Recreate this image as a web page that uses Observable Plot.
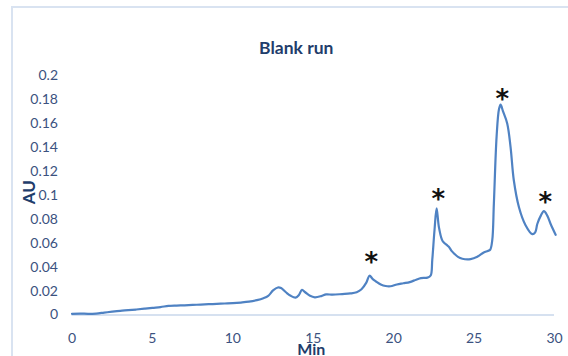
<!DOCTYPE html>
<html>
<head>
<meta charset="utf-8">
<script src="https://cdn.jsdelivr.net/npm/d3@7"></script>
<script src="https://cdn.jsdelivr.net/npm/@observablehq/plot@0.6"></script>
<style>
  html, body { margin: 0; padding: 0; background: #fff; }
  #wrap { position: relative; width: 568px; height: 356px; overflow: hidden; }
  #border { position: absolute; left: 11px; top: 6px; width: 600px; height: 400px;
            border-left: 2px solid #d9e3f1; border-top: 2px solid #d9e3f1; box-sizing: border-box; }
  #chart { position: absolute; left: 0; top: 0; }
</style>
</head>
<body>
<div id="wrap"><div id="border"></div><div id="chart"></div></div>
<script>
// Chromatogram trace (minutes, absorbance units)
const minutes = [0.0, 0.5, 1.0, 1.5, 2.0, 2.5, 3.0, 3.5, 4.0, 4.5, 5.0, 5.5, 6.0, 6.5, 7.0, 7.5, 8.0, 8.5, 9.0, 9.5,
  10.0, 10.5, 11.0, 11.5, 11.9, 12.2, 12.5, 12.8, 13.0, 13.3, 13.6, 13.9, 14.1, 14.3, 14.5, 14.8, 15.1, 15.5, 15.8,
  16.2, 16.8, 17.3, 17.7, 18.0, 18.3, 18.5, 18.7, 18.9, 19.2, 19.5, 19.8, 20.2, 20.6, 21.0, 21.4, 21.7, 22.1, 22.3,
  22.4, 22.54, 22.67, 22.81, 23.0, 23.12, 23.3, 23.43, 23.6, 23.75, 24.0, 24.27, 24.78, 25.2, 25.6, 25.85, 26.0,
  26.13, 26.23, 26.4, 26.55, 26.65, 26.8, 27.06, 27.27, 27.47, 27.79, 28.2, 28.62, 28.8, 28.93, 29.15, 29.34, 29.55,
  29.76, 30.07];
const au = [0.0010, 0.0012, 0.0010, 0.0012, 0.0020, 0.0028, 0.0035, 0.0040, 0.0046, 0.0053, 0.0060, 0.0066, 0.0076, 0.0079,
  0.0081, 0.0084, 0.0087, 0.0090, 0.0093, 0.0096, 0.0099, 0.0104, 0.0111, 0.0124, 0.0140, 0.0160, 0.0205, 0.0230,
  0.0225, 0.0190, 0.0160, 0.0145, 0.0165, 0.0210, 0.0190, 0.0160, 0.0148, 0.0158, 0.0172, 0.0170, 0.0175, 0.0180,
  0.0190, 0.0215, 0.0270, 0.0328, 0.0300, 0.0280, 0.0255, 0.0242, 0.0240, 0.0255, 0.0265, 0.0275, 0.0295, 0.0308,
  0.0312, 0.0330, 0.0460, 0.0710, 0.0890, 0.0736, 0.0630, 0.0605, 0.0585, 0.0570, 0.0535, 0.0514, 0.0485, 0.0470,
  0.0467, 0.0486, 0.0522, 0.0535, 0.0545, 0.0625, 0.0930, 0.1490, 0.1720, 0.1756, 0.1700, 0.1600, 0.1400, 0.1125,
  0.0900, 0.0750, 0.0675, 0.0690, 0.0760, 0.0830, 0.0867, 0.0830, 0.0760, 0.0670];

// Peak markers (asterisks)
const starMinutes = [18.61, 22.77, 26.75, 29.43];
const starAU = [0.0483, 0.1012, 0.1852, 0.0984];

const xTicks = [0, 5, 10, 15, 20, 25, 30];
const yTicks = [0, 0.02, 0.04, 0.06, 0.08, 0.1, 0.12, 0.14, 0.16, 0.18, 0.2];
const yTickLabels = ["0", "0.02", "0.04", "0.06", "0.08", "0.1", "0.12", "0.14", "0.16", "0.18", "0.2"];

const trace = minutes.map((m, i) => ({m, v: au[i]}));
const stars = starMinutes.map((m, i) => ({m, v: starAU[i]}));

const tickColor = "#3b5280";
const labelColor = "#1f3d6b";

const chart = Plot.plot({
  width: 568,
  height: 356,
  marginLeft: 71.5,
  marginRight: 14,
  marginTop: 75,
  marginBottom: 41.5,
  style: {fontFamily: "Lato, 'Open Sans', sans-serif", background: "transparent", overflow: "visible"},
  x: {domain: [0, 30], ticks: xTicks, tickFormat: d => String(d), label: null},
  y: {domain: [0, 0.2], ticks: yTicks, tickFormat: (d, i) => yTickLabels[i], label: null},
  marks: [
    Plot.axisX({ticks: xTicks, tickSize: 0, tickPadding: 18, fontSize: 14, color: tickColor, tickFormat: d => String(d), label: null}),
    Plot.axisY({ticks: yTicks, tickSize: 0, tickPadding: 14, fontSize: 14, color: tickColor, tickFormat: (d, i) => yTickLabels[i], label: null}),
    Plot.ruleY([0], {stroke: "#d6e1f0", strokeWidth: 2}),
    Plot.line(trace, {x: "m", y: "v", stroke: "#4f82c3", strokeWidth: 2.2, curve: "catmull-rom"}),
    Plot.text(stars, {x: "m", y: "v", text: () => "*", fontSize: 26, fontWeight: "bold", fill: "#111", dy: 6, fontFamily: "DejaVu Sans"}),
    Plot.text(["Blank run"], {frameAnchor: "top", text: d => d, dx: -17, dy: -34, fontSize: 17.5, fontWeight: "bold", fill: labelColor}),
    Plot.text(["Min"], {frameAnchor: "bottom", text: d => d, dx: -2, dy: 40, fontSize: 16, fontWeight: "bold", fill: labelColor}),
    Plot.text(["AU"], {frameAnchor: "left", text: d => d, rotate: -90, dx: -42, dy: 9, fontSize: 17, fontWeight: "bold", fill: labelColor})
  ]
});
document.getElementById("chart").appendChild(chart);
</script>
</body>
</html>
